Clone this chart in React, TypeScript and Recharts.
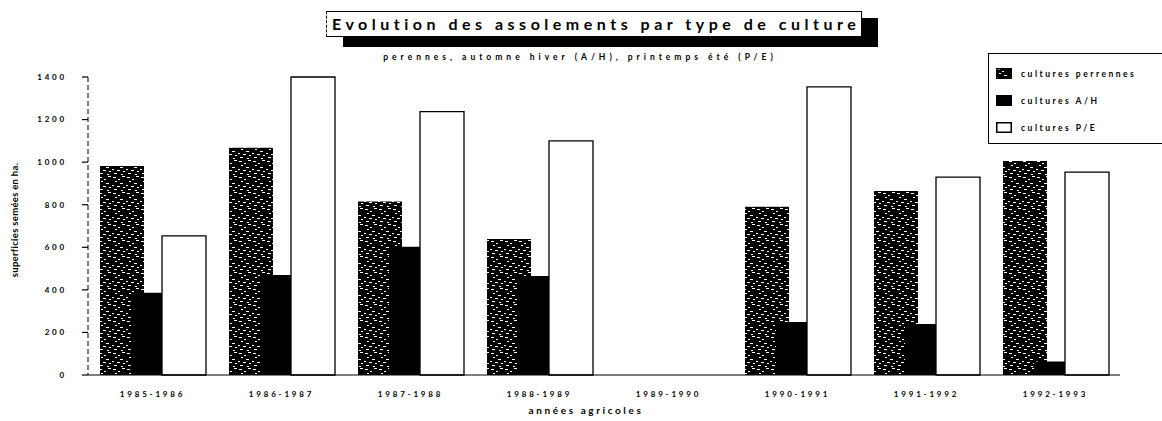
import { Bar, BarChart, XAxis, YAxis } from "recharts";

// Surfaces sown (ha) per agricultural year, by crop type.
const seasons = [
  "1985-1986",
  "1986-1987",
  "1987-1988",
  "1988-1989",
  "1989-1990",
  "1990-1991",
  "1991-1992",
  "1992-1993",
];
const perennes = [982, 1068, 815, 639, null, 790, 864, 1005];
const automneHiver = [386, 470, 603, 465, null, 249, 240, 64];
const printempsEte = [654, 1400, 1237, 1100, null, 1354, 930, 953];
const yTicks = [0, 200, 400, 600, 800, 1000, 1200, 1400];

const seriesNames = ["cultures perrennes", "cultures A/H", "cultures P/E"];
const seriesFills = ["url(#speckle)", "#000", "#fff"];

const data = seasons.map((season, i) => ({
  season,
  perennes: perennes[i],
  automneHiver: automneHiver[i],
  printempsEte: printempsEte[i],
}));

const FONT = "Lato, 'Open Sans', sans-serif";

// Speckled texture of the old print, fixed offsets (style only)
const specks: [number, number, number][] = [
  [1, 1, 3], [6, 3, 2], [10, 0, 3], [3, 5, 2], [8, 7, 3],
  [0, 9, 2], [5, 10, 3], [11, 11, 2], [2, 13, 3], [9, 14, 2],
];

function LegendBox() {
  return (
    <div
      style={{
        position: "absolute",
        left: 988,
        top: 53,
        border: "1.5px solid #000",
        borderRight: "none",
        background: "#fff",
        padding: "6px 0 0 7px",
        boxSizing: "border-box",
        width: 180,
        height: 91,
      }}
    >
      {seriesNames.map((name, i) => (
        <div
          key={name}
          style={{ display: "flex", alignItems: "center", height: 27 }}
        >
          <svg width={16} height={11} style={{ marginRight: 9 }}>
            <rect
              x={0.75}
              y={0.75}
              width={14.5}
              height={9.5}
              fill={seriesFills[i]}
              stroke="#000"
              strokeWidth={1.5}
            />
          </svg>
          <span
            style={{
              fontFamily: FONT,
              fontWeight: 700,
              fontSize: 8.5,
              letterSpacing: 2.5,
              color: "#000",
            }}
          >
            {name}
          </span>
        </div>
      ))}
    </div>
  );
}

export default function App() {
  return (
    <div
      style={{
        position: "fixed",
        left: 0,
        top: 0,
        width: 1162,
        height: 421,
        background: "#fff",
      }}
    >
      <BarChart
        width={1162}
        height={421}
        data={data}
        margin={{ top: 77, right: 42, left: 28, bottom: 16 }}
        barGap={-13}
        style={{ position: "absolute", left: 0, top: 0 }}
      >
        <defs>
          <pattern
            id="speckle"
            width={14}
            height={16}
            patternUnits="userSpaceOnUse"
          >
            <rect width={14} height={16} fill="#000" />
            {specks.map(([x, y, w], i) => (
              <rect key={i} x={x} y={y} width={w} height={1} fill="#fff" />
            ))}
          </pattern>
        </defs>
        <XAxis
          dataKey="season"
          axisLine={{ stroke: "#000", strokeWidth: 1.2 }}
          tickLine={false}
          tickSize={0}
          tickMargin={16}
          height={30}
          tick={{
            fontFamily: FONT,
            fontWeight: 700,
            fontSize: 8,
            letterSpacing: 2.8,
            fill: "#000",
          }}
          label={{
            value: "années agricoles",
            position: "insideBottom",
            offset: -9,
            dx: -18,
            style: {
              fontFamily: FONT,
              fontWeight: 700,
              fontSize: 10,
              letterSpacing: 2.6,
              fill: "#000",
            },
          }}
        />
        <YAxis
          domain={[0, 1400]}
          ticks={yTicks}
          width={60}
          axisLine={{ stroke: "#000", strokeWidth: 1, strokeDasharray: "5 3" }}
          tickLine={{ stroke: "#000", strokeWidth: 1.2 }}
          tickSize={6}
          tickMargin={15}
          tick={{
            fontFamily: FONT,
            fontWeight: 700,
            fontSize: 8,
            letterSpacing: 2.8,
            fill: "#000",
          }}
          label={{
            value: "superficies semées en ha.",
            angle: -90,
            position: "insideLeft",
            offset: 0,
            dx: -13,
            dy: -6,
            style: {
              fontFamily: FONT,
              fontWeight: 700,
              fontSize: 9.5,
              letterSpacing: 0.3,
              fill: "#000",
              textAnchor: "middle",
            },
          }}
        />
        <Bar
          dataKey="perennes"
          name={seriesNames[0]}
          fill={seriesFills[0]}
          barSize={44}
          isAnimationActive={false}
        />
        <Bar
          dataKey="automneHiver"
          name={seriesNames[1]}
          fill={seriesFills[1]}
          barSize={44}
          isAnimationActive={false}
        />
        <Bar
          dataKey="printempsEte"
          name={seriesNames[2]}
          fill={seriesFills[2]}
          stroke="#000"
          strokeWidth={1.3}
          barSize={44}
          isAnimationActive={false}
        />
      </BarChart>

      {/* title box with its drop shadow */}
      <div
        style={{
          position: "absolute",
          left: 343,
          top: 18,
          width: 535,
          height: 29,
          background: "#000",
        }}
      />
      <div
        style={{
          position: "absolute",
          left: 326,
          top: 11,
          width: 536,
          height: 26,
          border: "1px solid #000",
          borderLeft: "1px dashed #000",
          background: "#fff",
          boxSizing: "border-box",
          fontFamily: FONT,
          fontWeight: 700,
          fontSize: 16,
          letterSpacing: 4.5,
          lineHeight: "24px",
          paddingLeft: 5,
          whiteSpace: "nowrap",
          overflow: "hidden",
          color: "#000",
        }}
      >
        Evolution des assolements par type de culture
      </div>
      <div
        style={{
          position: "absolute",
          left: 0,
          width: 1160,
          top: 52,
          textAlign: "center",
          fontFamily: FONT,
          fontWeight: 700,
          fontSize: 8.5,
          letterSpacing: 4,
          color: "#000",
        }}
      >
        perennes, automne hiver (A/H), printemps été (P/E)
      </div>
      <LegendBox />
    </div>
  );
}
